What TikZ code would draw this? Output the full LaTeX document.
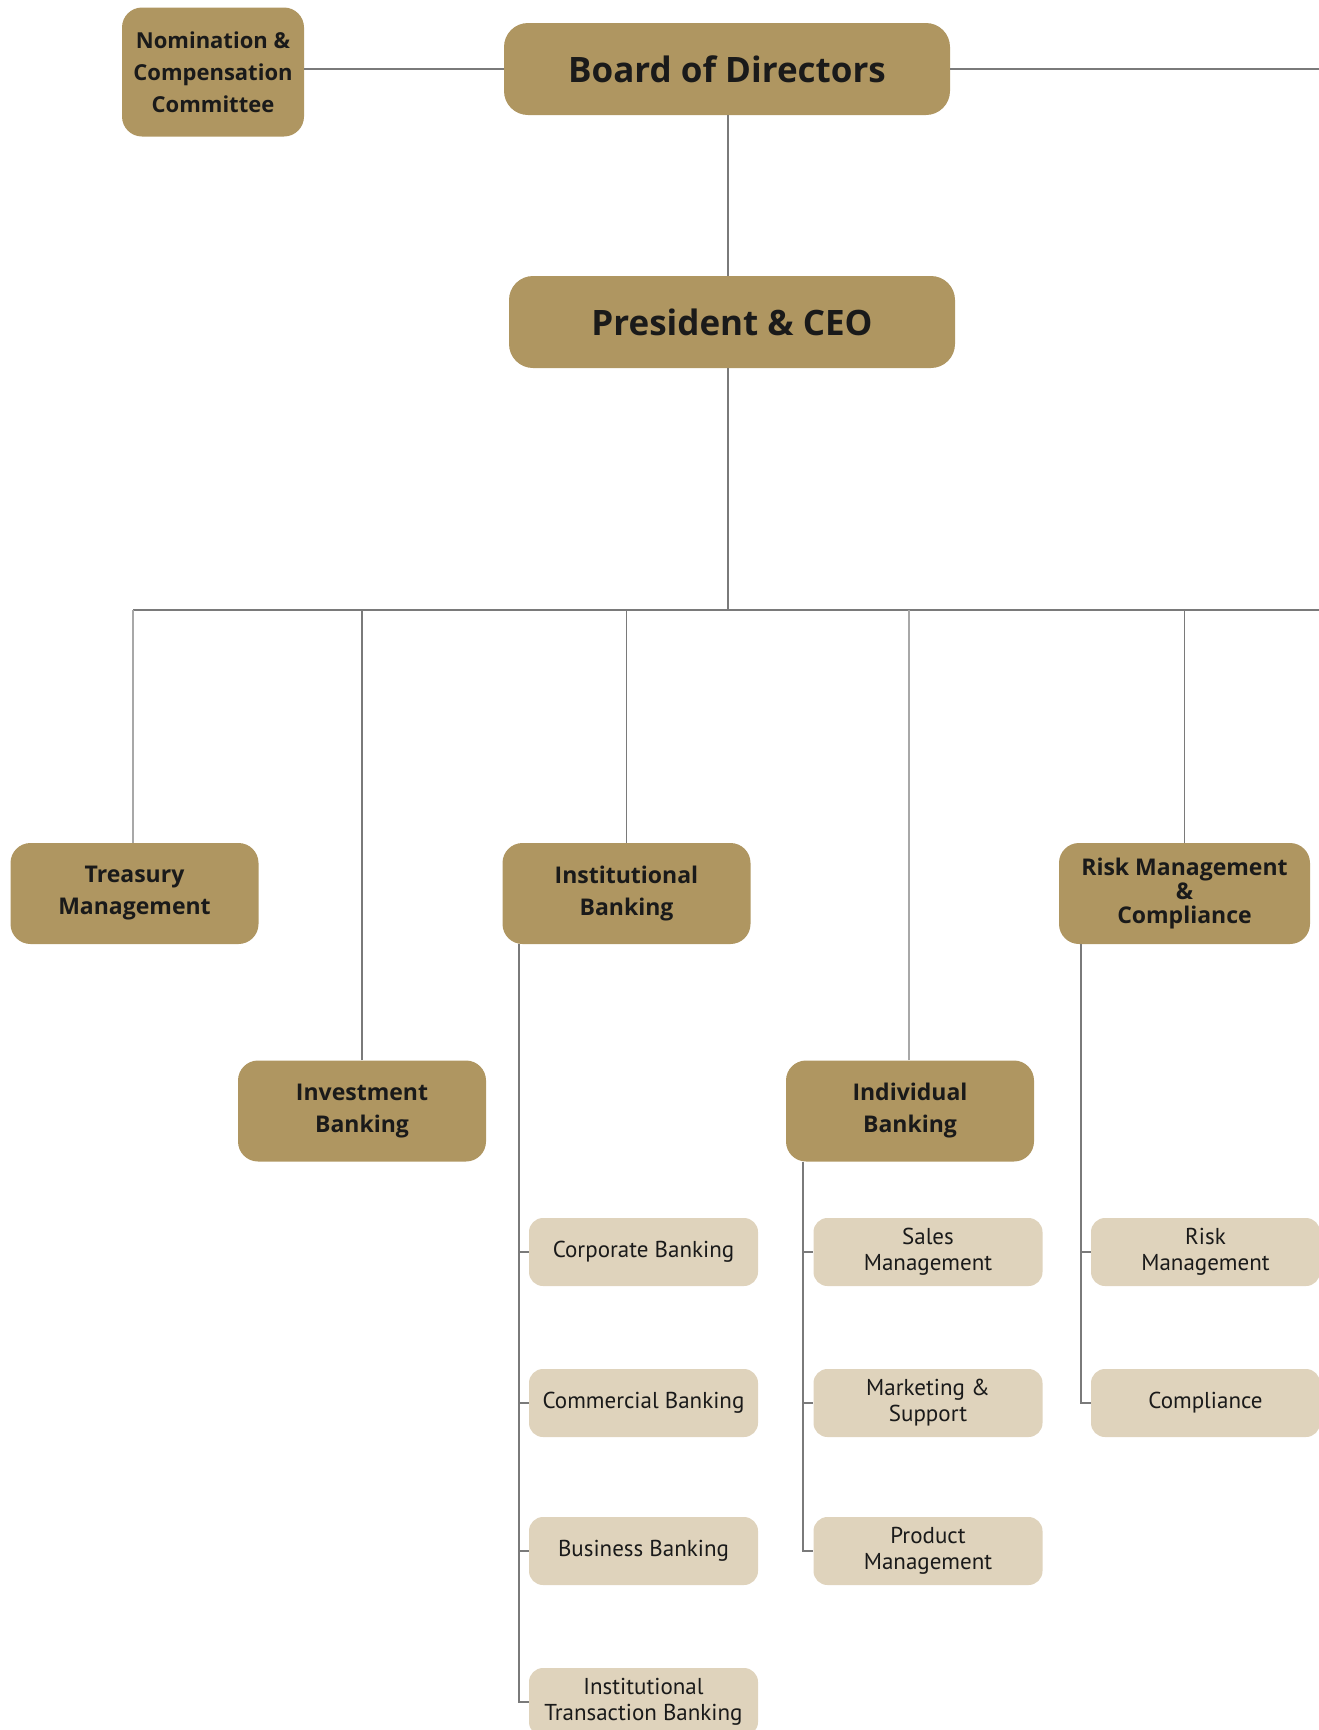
\documentclass[tikz,border=0pt]{standalone}
\usepackage{fontspec}
\setmainfont{PT Sans}
\newfontfamily\boxbold{Open Sans}
\definecolor{darkbox}{HTML}{AF9661}
\definecolor{lightbox}{HTML}{DFD3BC}
\definecolor{linec}{HTML}{7A7A7A}
\definecolor{linelt}{HTML}{A8A8A8}
\definecolor{txt}{HTML}{1A1A1A}
\begin{document}
\begin{tikzpicture}[x=1pt,y=-1pt,
  conn/.style={draw=linec,line width=1.6pt},
  connlt/.style={draw=linelt,line width=2pt},
  major/.style={fill=darkbox,rounded corners=20pt,align=center,text=txt,
    font=\boxbold\bfseries\fontsize{23}{32}\selectfont,inner sep=0pt,
    minimum width=248pt,minimum height=101pt},
  top/.style={major,font=\boxbold\bfseries\fontsize{35}{40}\selectfont,
    minimum width=446pt,minimum height=92pt,rounded corners=24pt},
  minor/.style={fill=lightbox,rounded corners=14pt,align=center,text=txt,
    font=\fontsize{23}{26}\selectfont,inner sep=0pt,
    minimum width=229pt,minimum height=68pt}]
\useasboundingbox (0,0) rectangle (1319,1730);
\clip (0,0) rectangle (1319,1730);

% top level
\node[major,minimum width=182pt,minimum height=129pt,
  font=\boxbold\bfseries\fontsize{22}{32}\selectfont] (nom) at (213,72)
  {Nomination \&\\Compensation\\Committee};
\node[top] (board) at (727,69) {Board of Directors};
\node[top] (ceo) at (732,322) {President \& CEO};

% second level
\node[major] (treas) at (134.5,893.5) {Treasury\\Management};
\node[major] (inv) at (362,1111) {Investment\\Banking};
\node[major] (inst) at (626.5,893.5) {Institutional\\Banking};
\node[major] (indiv) at (910,1111) {Individual\\Banking};
\node[major,minimum width=251pt,font=\boxbold\bfseries\fontsize{23}{24}\selectfont] (risk) at (1184.5,893.5)
  {Risk Management\\\&\\Compliance};

% third level
\node[minor] (corp) at (643.5,1252) {Corporate Banking};
\node[minor] (comm) at (643.5,1403) {Commercial Banking};
\node[minor] (bus) at (643.5,1551) {Business Banking};
\node[minor] (itb) at (643.5,1702) {Institutional\\Transaction Banking};

\node[minor] (sales) at (928,1252) {Sales\\Management};
\node[minor] (mkt) at (928,1403) {Marketing \&\\Support};
\node[minor] (prod) at (928,1551) {Product\\Management};

\node[minor] (rm) at (1205.5,1252) {Risk\\Management};
\node[minor] (comp) at (1205.5,1403) {Compliance};

% coordinates
\coordinate (redge) at (1319,69);
\coordinate (busc) at (728,610);
\coordinate (busL) at (133,610);
\coordinate (busR) at (1319,610);
\coordinate (indivL) at (909,610);
\coordinate (instT) at (519,944);
\coordinate (indivT) at (803,1162);
\coordinate (riskT) at (1081,944);

% connectors
\draw[conn] (nom.east |- board.west) -- (board.west);
\draw[conn] (board.east) -- (redge);
\draw[conn] (board.south -| busc) -- (ceo.north -| busc);
\draw[conn] (ceo.south -| busc) -- (busc);
\draw[conn] (busL) -- (busR);
\draw[connlt] (treas.north -| busL) -- (busL);
\draw[conn] (inv.north) -- (inv.north |- busL);
\draw[conn] (inst.north) -- (inst.north |- busL);
\draw[connlt] (indiv.north -| indivL) -- (indivL);
\draw[conn] (risk.north) -- (risk.north |- busL);

\draw[conn] (instT) |- (itb.west);
\draw[conn] (instT |- corp.west) -- (corp.west);
\draw[conn] (instT |- comm.west) -- (comm.west);
\draw[conn] (instT |- bus.west) -- (bus.west);

\draw[conn] (indivT) |- (prod.west);
\draw[conn] (indivT |- sales.west) -- (sales.west);
\draw[conn] (indivT |- mkt.west) -- (mkt.west);

\draw[conn] (riskT) |- (comp.west);
\draw[conn] (riskT |- rm.west) -- (rm.west);
\end{tikzpicture}
\end{document}
